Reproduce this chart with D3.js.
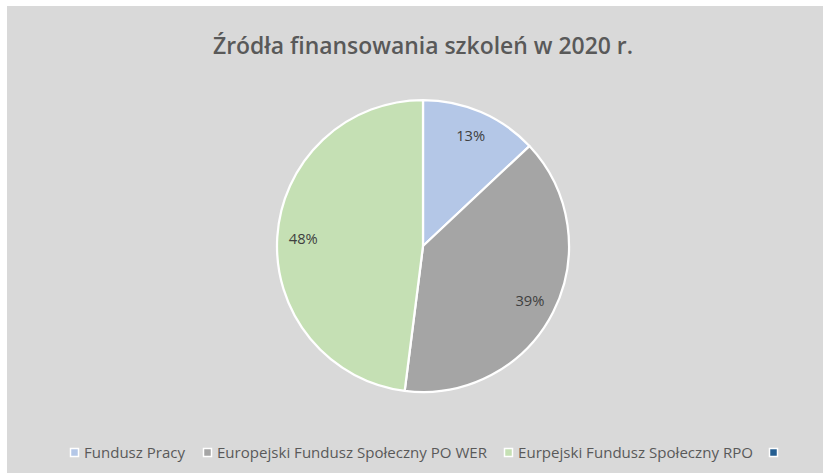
<!DOCTYPE html>
<html lang="pl">
  <head>
    <meta charset="UTF-8" />
    <script src="https://d3js.org/d3.v7.min.js"></script>
    <title>Źródła finansowania szkoleń</title>
    <style>
      body {
        margin: 0;
        background: #ffffff;
      }
      svg text {
        font-family: "Open Sans", "Noto Sans", sans-serif;
      }
    </style>
  </head>
  <body>
    <svg id="chart" width="823" height="473"></svg>
    <script>
      const width = 823;
      const height = 473;

      // data
      const categories = [
        "Fundusz Pracy",
        "Europejski Fundusz Społeczny PO WER",
        "Eurpejski Fundusz Społeczny RPO",
        ""
      ];
      const values = [13, 39, 48, 0];
      const colors = ["#b4c7e7", "#a5a5a5", "#c5e0b4", "#255e91"];
      const title = "Źródła finansowania szkoleń w 2020 r.";

      // legend widths measured in the reference (text only)
      const legendTextWidths = [101, 270, 235, 0];

      const svg = d3.select("#chart");

      svg.append("rect")
        .attr("x", 7)
        .attr("y", 6)
        .attr("width", width - 7)
        .attr("height", height - 6)
        .attr("fill", "#d9d9d9");

      svg.append("text")
        .attr("x", 423)
        .attr("y", 54)
        .attr("text-anchor", "middle")
        .attr("fill", "#595959")
        .attr("font-size", 23)
        .attr("font-weight", 600)
        .attr("textLength", 420)
        .attr("lengthAdjust", "spacingAndGlyphs")
        .text(title);

      const cx = 423, cy = 246, r = 146;

      const pie = d3.pie().sort(null).value(d => d);
      const arcs = pie(values);
      const arc = d3.arc().innerRadius(0).outerRadius(r);
      const labelArc = d3.arc().innerRadius(120).outerRadius(120);

      const g = svg.append("g").attr("transform", `translate(${cx},${cy})`);

      g.selectAll("path.slice")
        .data(arcs.filter(d => d.data > 0))
        .join("path")
        .attr("class", "slice")
        .attr("d", arc)
        .attr("fill", d => colors[d.index])
        .attr("stroke", "#ffffff")
        .attr("stroke-width", 2.25)
        .attr("stroke-linejoin", "round");

      g.selectAll("text.lbl")
        .data(arcs.filter(d => d.data > 0))
        .join("text")
        .attr("class", "lbl")
        .attr("transform", d => `translate(${labelArc.centroid(d)})`)
        .attr("text-anchor", "middle")
        .attr("dy", "0.35em")
        .attr("fill", "#404040")
        .attr("font-size", 15)
        .attr("textLength", 29)
        .attr("lengthAdjust", "spacingAndGlyphs")
        .text(d => d.data + "%");

      // legend
      const legendY = 452.5;
      const legendX = [74.5, 207.5, 508.5, 773.5];
      const lg = svg.append("g");
      categories.forEach((name, i) => {
        lg.append("rect")
          .attr("x", legendX[i] - 4)
          .attr("y", legendY - 4)
          .attr("width", 8)
          .attr("height", 8)
          .attr("fill", colors[i])
          .attr("stroke", "#ffffff")
          .attr("stroke-width", 1.5);
        if (name) {
          lg.append("text")
            .attr("x", legendX[i] + 9.5)
            .attr("y", legendY)
            .attr("dy", "0.35em")
            .attr("fill", "#595959")
            .attr("font-size", 15)
            .attr("textLength", legendTextWidths[i])
            .attr("lengthAdjust", "spacingAndGlyphs")
            .text(name);
        }
      });
    </script>
  </body>
</html>
